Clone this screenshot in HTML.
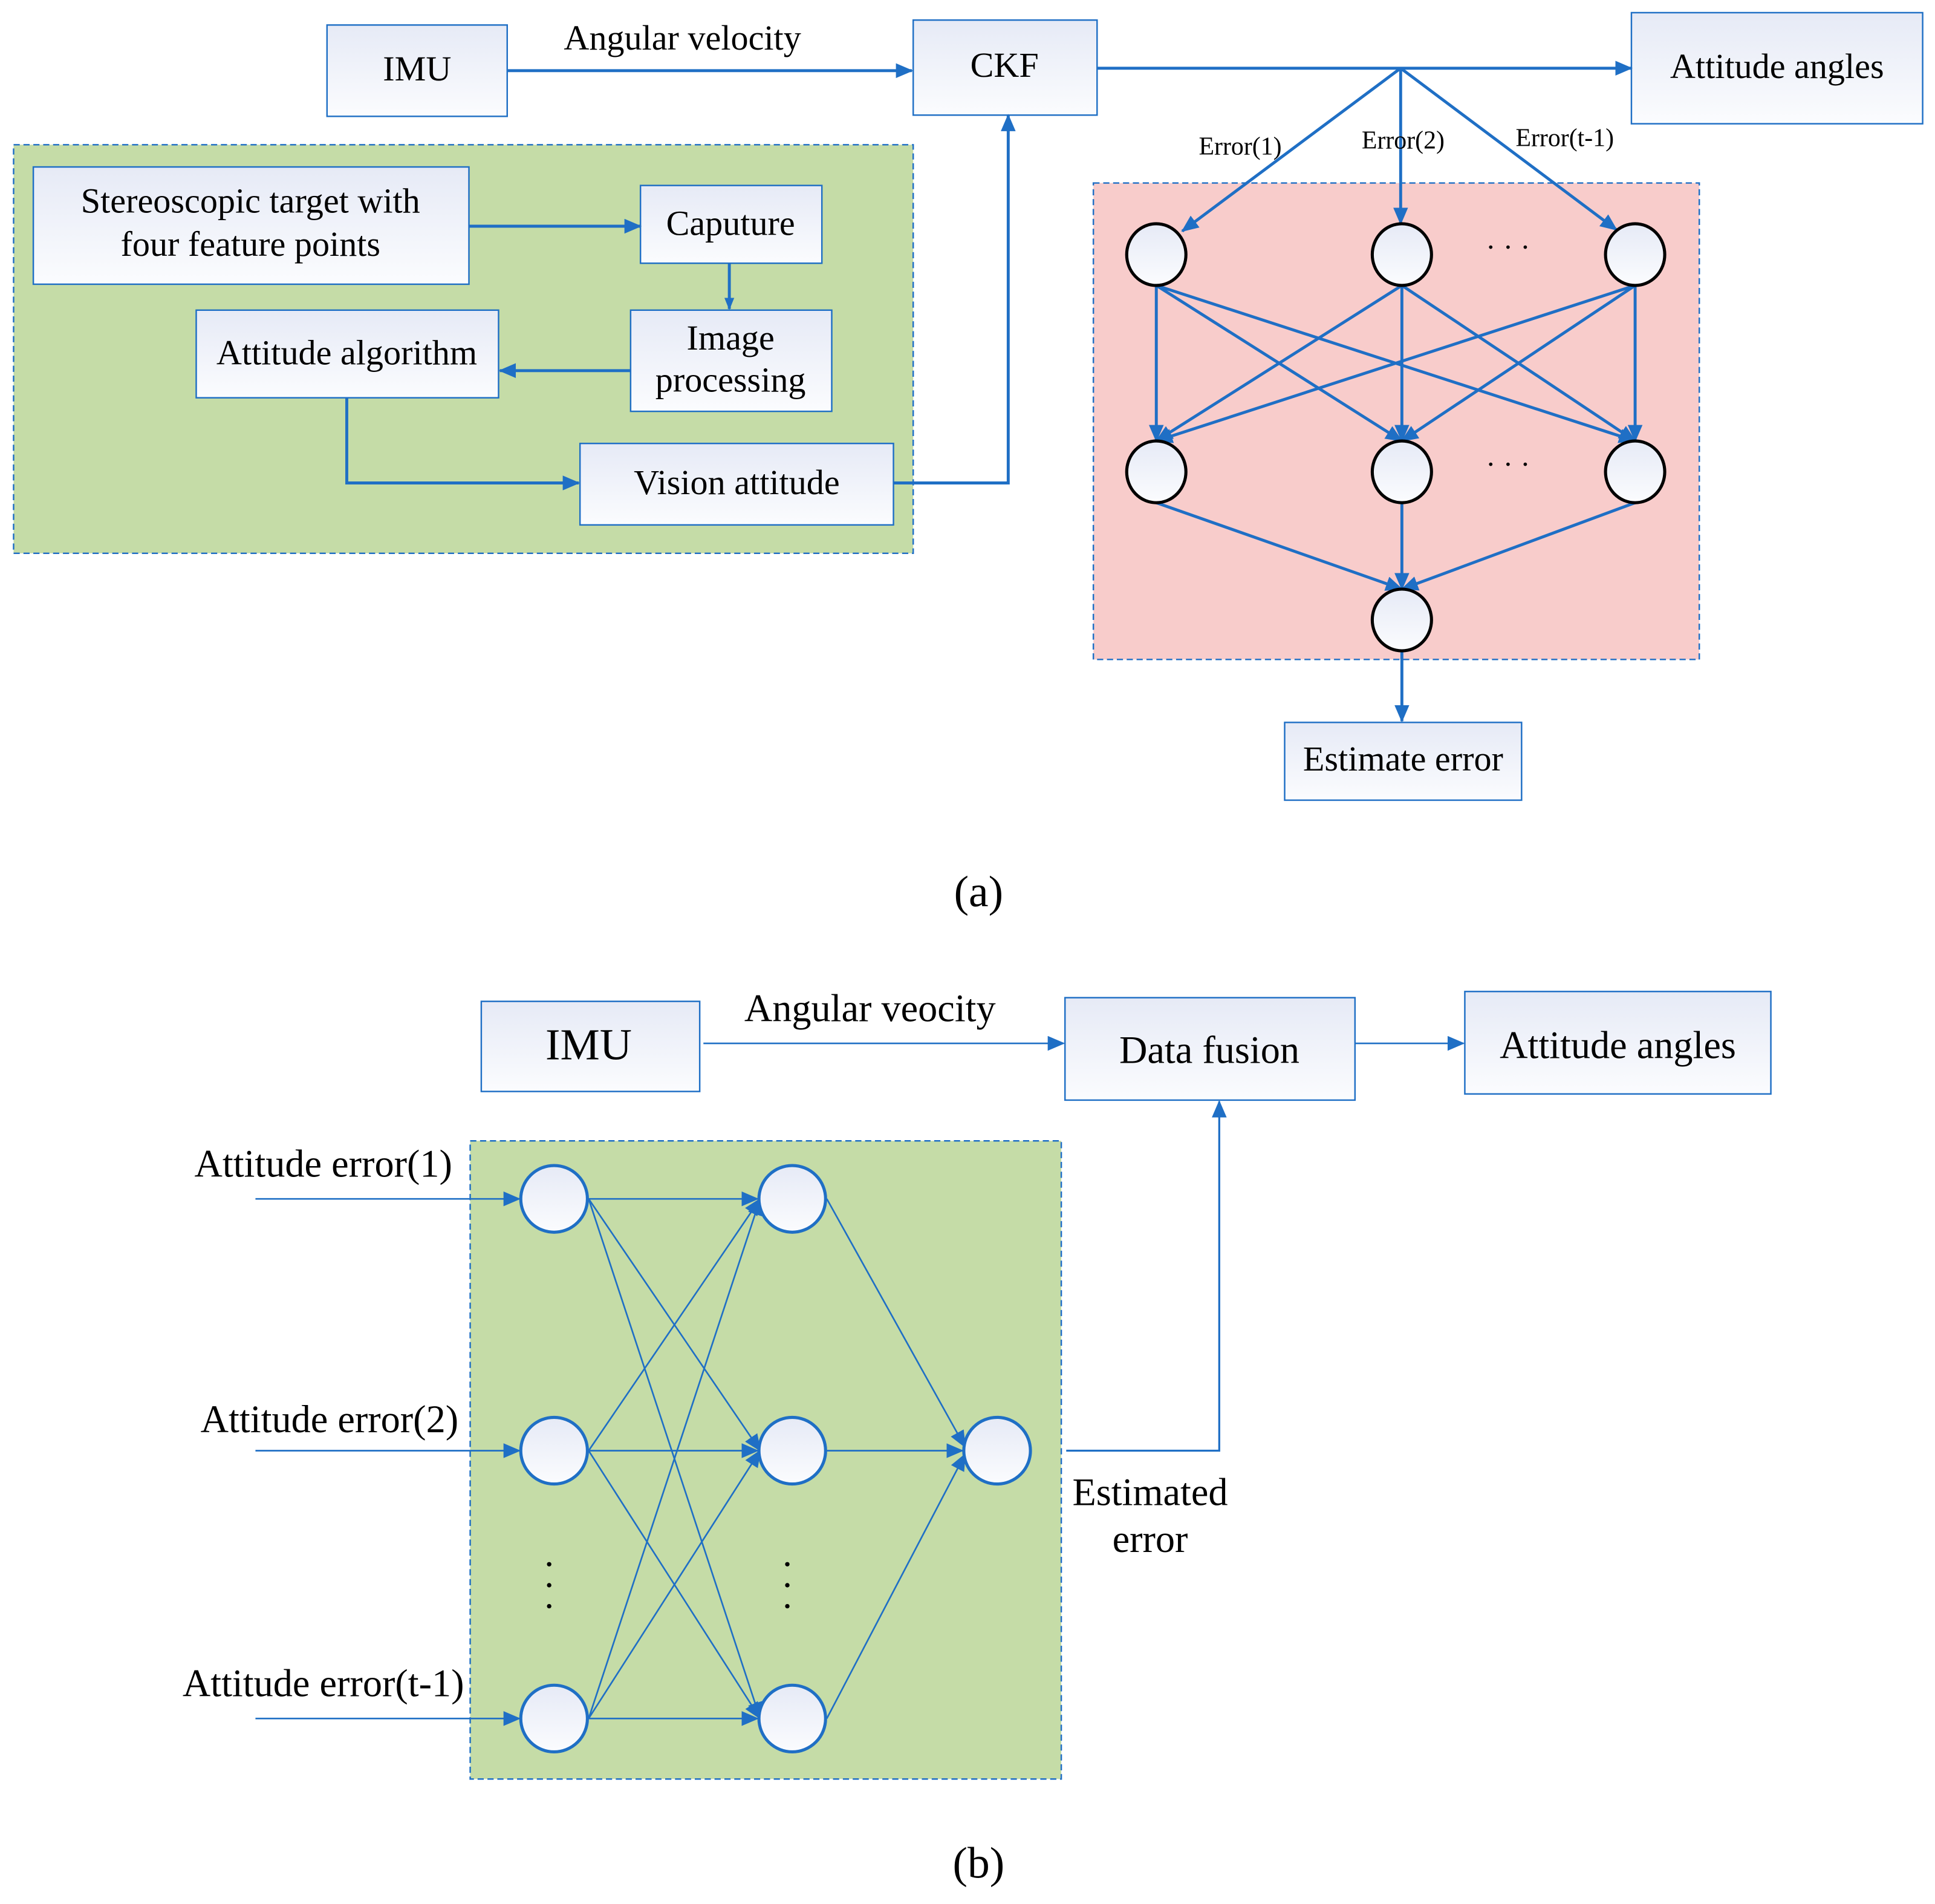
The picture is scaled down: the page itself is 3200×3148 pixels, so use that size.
<!DOCTYPE html>
<html><head><meta charset="utf-8"><style>
html,body{margin:0;padding:0;background:#fff;}
svg{display:block;}
text{font-family:"Liberation Serif",serif;fill:#000;}
</style></head><body>
<svg width="3200" height="3148" viewBox="0 0 1568 1542" xmlns="http://www.w3.org/2000/svg">
<defs>
<linearGradient id="g" x1="0" y1="0" x2="0" y2="1"><stop offset="0" stop-color="#e6eaf6"/><stop offset="1" stop-color="#fbfcfe"/></linearGradient>
<marker id="a" markerWidth="10" markerHeight="8" refX="9" refY="4" orient="auto" markerUnits="userSpaceOnUse"><path d="M0,0L10,4L0,8z" fill="#1f6fc5"/></marker>
<marker id="a2" markerWidth="14" markerHeight="12" refX="13" refY="6" orient="auto" markerUnits="userSpaceOnUse"><path d="M0,0L14,6L0,12z" fill="#1f6fc5"/></marker>
</defs>
<g stroke="#1f6fc5" fill="none">
<rect x="11" y="117" width="729" height="331" fill="#c5dca7" stroke-dasharray="5,3" stroke-width="1.2"/>
<rect x="886" y="148" width="491" height="386" fill="#f8cccb" stroke-dasharray="5,3" stroke-width="1.2"/>
<g fill="url(#g)" stroke-width="1.2">
<rect x="265" y="20" width="146" height="74"/>
<rect x="740" y="16" width="149" height="77"/>
<rect x="1322" y="10" width="236" height="90"/>
<rect x="27" y="135" width="353" height="95"/>
<rect x="519" y="150" width="147" height="63"/>
<rect x="511" y="251" width="163" height="82"/>
<rect x="159" y="251" width="245" height="71"/>
<rect x="470" y="359" width="254" height="66"/>
<rect x="1041" y="585" width="192" height="63"/>
</g>
<g stroke-width="2.4">
<line x1="411" y1="57" x2="739" y2="57" marker-end="url(#a2)"/>
<line x1="889" y1="55" x2="1322" y2="55" marker-end="url(#a2)"/>
<line x1="1135" y1="55" x2="958" y2="187" marker-end="url(#a2)"/>
<line x1="1135" y1="55" x2="1135" y2="181" marker-end="url(#a2)"/>
<line x1="1135" y1="55" x2="1310" y2="186" marker-end="url(#a2)"/>
<line x1="380" y1="183" x2="519" y2="183" marker-end="url(#a2)"/>
<line x1="591" y1="213" x2="591" y2="250" marker-end="url(#a)"/>
<line x1="511" y1="300" x2="405" y2="300" marker-end="url(#a2)"/>
<polyline points="281,322 281,391 469,391" marker-end="url(#a2)"/>
<polyline points="724,391 817,391 817,93" marker-end="url(#a2)"/>
<g marker-end="url(#a2)">
<line x1="937" y1="231" x2="937" y2="357"/><line x1="937" y1="231" x2="1136" y2="357"/><line x1="937" y1="231" x2="1325" y2="357"/>
<line x1="1136" y1="231" x2="937" y2="357"/><line x1="1136" y1="231" x2="1136" y2="357"/><line x1="1136" y1="231" x2="1325" y2="357"/>
<line x1="1325" y1="231" x2="937" y2="357"/><line x1="1325" y1="231" x2="1136" y2="357"/><line x1="1325" y1="231" x2="1325" y2="357"/>
<line x1="937" y1="407" x2="1136" y2="477"/><line x1="1136" y1="407" x2="1136" y2="477"/><line x1="1325" y1="407" x2="1136" y2="477"/>
<line x1="1136" y1="527" x2="1136" y2="584"/>
</g>
</g>
<g fill="url(#g)" stroke="#000" stroke-width="2.5">
<ellipse cx="937" cy="206" rx="24" ry="25"/><ellipse cx="1136" cy="206" rx="24" ry="25"/><ellipse cx="1325" cy="206" rx="24" ry="25"/>
<ellipse cx="937" cy="382" rx="24" ry="25"/><ellipse cx="1136" cy="382" rx="24" ry="25"/><ellipse cx="1325" cy="382" rx="24" ry="25"/>
<ellipse cx="1136" cy="502" rx="24" ry="25"/>
</g>
<rect x="381" y="924" width="479" height="517" fill="#c5dca7" stroke-dasharray="5,3" stroke-width="1.2"/>
<g fill="url(#g)" stroke-width="1.2">
<rect x="390" y="811" width="177" height="73"/>
<rect x="863" y="808" width="235" height="83"/>
<rect x="1187" y="803" width="248" height="83"/>
</g>
<g stroke-width="1.3">
<line x1="570" y1="845" x2="862" y2="845" marker-end="url(#a2)"/>
<line x1="1098" y1="845" x2="1186" y2="845" marker-end="url(#a2)"/>
<polyline points="864,1175 988,1175 988,892" stroke-width="1.6" marker-end="url(#a2)"/>
<g marker-end="url(#a2)">
<line x1="207" y1="971" x2="421" y2="971"/><line x1="207" y1="1175" x2="421" y2="1175"/><line x1="207" y1="1392" x2="421" y2="1392"/>
<line x1="477" y1="971" x2="614" y2="971"/><line x1="477" y1="971" x2="616" y2="1175"/><line x1="477" y1="971" x2="616" y2="1392"/>
<line x1="477" y1="1175" x2="616" y2="971"/><line x1="477" y1="1175" x2="614" y2="1175"/><line x1="477" y1="1175" x2="616" y2="1392"/>
<line x1="477" y1="1392" x2="616" y2="971"/><line x1="477" y1="1392" x2="616" y2="1175"/><line x1="477" y1="1392" x2="614" y2="1392"/>
<line x1="670" y1="971" x2="782" y2="1172"/><line x1="670" y1="1175" x2="780" y2="1175"/><line x1="670" y1="1392" x2="782" y2="1178"/>
</g>
</g>
<g fill="url(#g)" stroke="#1f6fc5" stroke-width="2.5">
<circle cx="449" cy="971" r="27"/><circle cx="449" cy="1175" r="27"/><circle cx="449" cy="1392" r="27"/>
<circle cx="642" cy="971" r="27"/><circle cx="642" cy="1175" r="27"/><circle cx="642" cy="1392" r="27"/>
<circle cx="808" cy="1175" r="27"/>
</g>
</g>
<g font-size="28.5" text-anchor="middle">
<text x="338" y="65">IMU</text>
<text x="553" y="40">Angular velocity</text>
<text x="814" y="62">CKF</text>
<text x="1440" y="63">Attitude angles</text>
<text x="203" y="172">Stereoscopic target with</text>
<text x="203" y="207">four feature points</text>
<text x="592" y="190">Caputure</text>
<text x="592" y="283">Image</text>
<text x="592" y="317">processing</text>
<text x="281" y="295">Attitude algorithm</text>
<text x="597" y="400">Vision attitude</text>
<text x="1137" y="624">Estimate error</text>
<text x="1222" y="208" font-size="24">· · ·</text>
<text x="1222" y="384" font-size="24">· · ·</text>
</g>
<g font-size="20.5" text-anchor="middle">
<text x="1005" y="125">Error(1)</text>
<text x="1137" y="120">Error(2)</text>
<text x="1268" y="118">Error(t-1)</text>
</g>
<g font-size="31.5" text-anchor="middle">
<text x="477" y="858" font-size="36">IMU</text>
<text x="705" y="827">Angular veocity</text>
<text x="980" y="861">Data fusion</text>
<text x="1311" y="857">Attitude angles</text>
<text x="262" y="953">Attitude error(1)</text>
<text x="267" y="1160">Attitude error(2)</text>
<text x="262" y="1374">Attitude error(t-1)</text>
<text x="932" y="1219">Estimated</text>
<text x="932" y="1257">error</text>
</g>
<g fill="#000"><circle cx="445" cy="1267" r="1.8"/><circle cx="445" cy="1284" r="1.8"/><circle cx="445" cy="1301" r="1.8"/>
<circle cx="638" cy="1267" r="1.8"/><circle cx="638" cy="1284" r="1.8"/><circle cx="638" cy="1301" r="1.8"/></g>
<g font-size="36" text-anchor="middle" style="font-family:'DejaVu Sans',sans-serif">
<text x="793" y="734">(a)</text>
<text x="793" y="1521">(b)</text>
</g>
</svg>
</body></html>
